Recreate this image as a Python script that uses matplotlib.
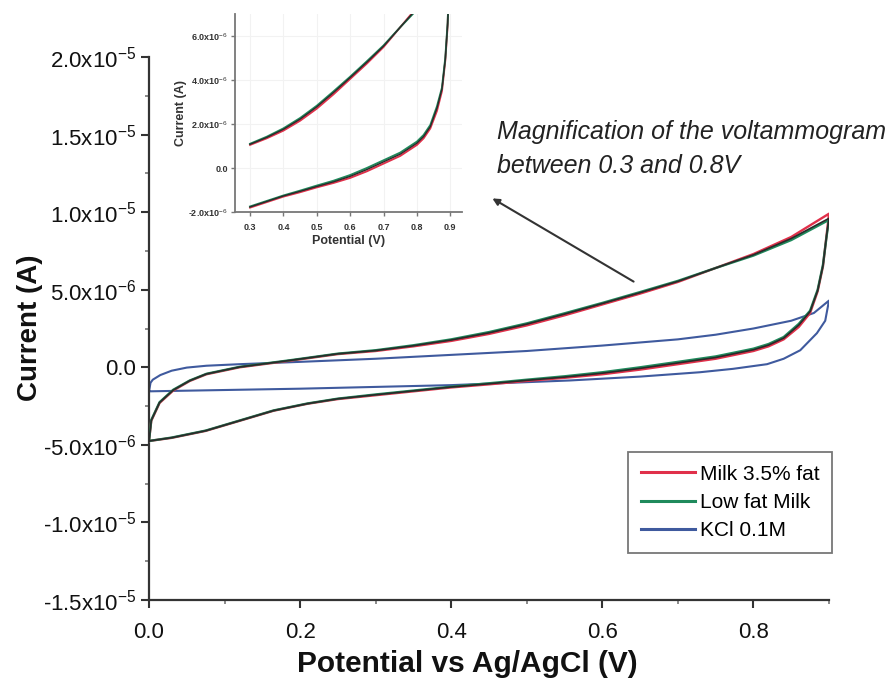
import numpy as np
import matplotlib
matplotlib.use("Agg")
import matplotlib.pyplot as plt
from matplotlib.patches import FancyArrowPatch
from matplotlib.ticker import FixedLocator, MultipleLocator

plt.rcParams["font.family"] = ["Liberation Sans", "DejaVu Sans"]
plt.rcParams["mathtext.fontset"] = "custom"
plt.rcParams["mathtext.rm"] = "Liberation Sans"
plt.rcParams["mathtext.it"] = "Liberation Sans:italic"
plt.rcParams["mathtext.bf"] = "Liberation Sans:bold"

# Cyclic voltammograms (potential in V vs Ag/AgCl, current in uA)
# Milk 3.5% fat: anodic sweep 0 -> 0.9 V, then cathodic sweep 0.9 -> 0 V
milk_fwd_v = [0.0, 0.003, 0.014, 0.032, 0.054, 0.076, 0.12, 0.186, 0.25, 0.3, 0.35, 0.4,
              0.45, 0.5, 0.55, 0.6, 0.65, 0.7, 0.75, 0.8, 0.85, 0.9]
milk_fwd_i = [-4.75, -3.45, -2.3, -1.5, -0.88, -0.45, 0.0, 0.42, 0.85, 1.05, 1.35, 1.7,
              2.15, 2.7, 3.35, 4.05, 4.75, 5.5, 6.4, 7.3, 8.4, 9.9]
milk_rev_v = [0.9, 0.897, 0.892, 0.885, 0.875, 0.86, 0.84, 0.82, 0.8, 0.75, 0.7, 0.65,
              0.6, 0.55, 0.5, 0.45, 0.4, 0.35, 0.3, 0.25, 0.21, 0.165, 0.12, 0.075, 0.03, 0.0]
milk_rev_i = [9.9, 8.6, 6.5, 4.9, 3.5, 2.6, 1.8, 1.35, 1.05, 0.55, 0.2, -0.15,
              -0.45, -0.68, -0.88, -1.1, -1.3, -1.55, -1.8, -2.05, -2.35, -2.8, -3.45, -4.1, -4.55, -4.75]

# Low fat milk
lowfat_fwd_v = milk_fwd_v
lowfat_fwd_i = [-4.75, -3.4, -2.25, -1.45, -0.85, -0.42, 0.03, 0.45, 0.88, 1.1, 1.42, 1.8,
                2.27, 2.83, 3.48, 4.15, 4.85, 5.57, 6.4, 7.2, 8.2, 9.5]
lowfat_rev_v = milk_rev_v
lowfat_rev_i = [9.5, 8.5, 6.6, 5.0, 3.65, 2.8, 1.95, 1.5, 1.2, 0.7, 0.35, 0.0,
                -0.32, -0.58, -0.8, -1.03, -1.25, -1.5, -1.75, -2.02, -2.33, -2.78, -3.43, -4.08, -4.53, -4.75]

# Trace drawn over both milk sweeps
overlay_fwd_i = [-4.75, -3.42, -2.27, -1.47, -0.86, -0.43, 0.02, 0.44, 0.87, 1.08, 1.39, 1.76,
                 2.22, 2.78, 3.43, 4.11, 4.81, 5.54, 6.4, 7.25, 8.3, 9.6]
overlay_rev_i = [9.6, 8.55, 6.55, 4.95, 3.6, 2.72, 1.88, 1.43, 1.13, 0.63, 0.28, -0.07,
                 -0.38, -0.63, -0.84, -1.06, -1.27, -1.52, -1.77, -2.03, -2.34, -2.79, -3.44, -4.09, -4.54, -4.75]

# KCl 0.1 M supporting electrolyte
kcl_fwd_v = [0.0, 0.002, 0.005, 0.015, 0.03, 0.05, 0.076, 0.12, 0.2, 0.3, 0.4, 0.5,
             0.6, 0.7, 0.75, 0.8, 0.85, 0.88, 0.9]
kcl_fwd_i = [-1.55, -1.0, -0.8, -0.5, -0.22, -0.02, 0.1, 0.2, 0.35, 0.55, 0.8, 1.05,
             1.4, 1.8, 2.1, 2.5, 3.0, 3.5, 4.3]
kcl_rev_v = [0.9, 0.895, 0.884, 0.862, 0.84, 0.818, 0.773, 0.729, 0.65, 0.557, 0.4, 0.2, 0.0]
kcl_rev_i = [4.3, 3.0, 2.2, 1.1, 0.55, 0.2, -0.1, -0.32, -0.6, -0.85, -1.15, -1.38, -1.55]

labels = ["Milk 3.5% fat", "Low fat Milk", "KCl 0.1M"]
colors = ["#e0304a", "#1f8a5c", "#3f5a9e"]

ytick_vals = [-1.5e-5, -1.0e-5, -5.0e-6, 0.0, 5.0e-6, 1.0e-5, 1.5e-5, 2.0e-5]
ytick_text = [r"-1.5x10$^{-5}$", r"-1.0x10$^{-5}$", r"-5.0x10$^{-6}$", "0.0",
              r"5.0x10$^{-6}$", r"1.0x10$^{-5}$", r"1.5x10$^{-5}$", r"2.0x10$^{-5}$"]
xtick_vals = [0.0, 0.2, 0.4, 0.6, 0.8]
xtick_text = ["0.0", "0.2", "0.4", "0.6", "0.8"]

inset_yvals = [-2e-6, 0.0, 2e-6, 4e-6, 6e-6]
inset_ytext = [r"-2.0x10$^{-6}$", "0.0", r"2.0x10$^{-6}$", r"4.0x10$^{-6}$", r"6.0x10$^{-6}$"]
inset_xvals = [0.3, 0.4, 0.5, 0.6, 0.7, 0.8, 0.9]
inset_vmin = 0.3


def loop(fv, fi, rv, ri):
    v = np.concatenate([fv, rv])
    i = np.concatenate([fi, ri]) * 1e-6
    return v, i


def window(curve, vmin):
    v, i = curve
    keep = v >= vmin
    return v[keep], i[keep]


milk = loop(milk_fwd_v, milk_fwd_i, milk_rev_v, milk_rev_i)
lowfat = loop(lowfat_fwd_v, lowfat_fwd_i, lowfat_rev_v, lowfat_rev_i)
overlay = loop(milk_fwd_v, overlay_fwd_i, milk_rev_v, overlay_rev_i)
kcl = loop(kcl_fwd_v, kcl_fwd_i, kcl_rev_v, kcl_rev_i)

W, H = 893, 688
fig = plt.figure(figsize=(W / 100, H / 100), dpi=100)
ax = fig.add_axes([149 / W, 1 - 600 / H, (829 - 149) / W, (600 - 57) / H])

axis_col = "#333333"

ax.plot(*milk, color=colors[0], lw=1.7, label=labels[0], zorder=3)
ax.plot(*lowfat, color=colors[1], lw=1.7, label=labels[1], zorder=3)
ax.plot(*overlay, color="#2a2a2a", lw=1.2, label="_nolegend_", zorder=4)
ax.plot(*kcl, color=colors[2], lw=1.5, label=labels[2], zorder=2)

ax.set_xlim(0.0, 0.9)
ax.set_ylim(-1.5e-5, 2.0e-5)
for s in ["top", "right"]:
    ax.spines[s].set_visible(False)
for s in ["left", "bottom"]:
    ax.spines[s].set_color(axis_col)
    ax.spines[s].set_linewidth(1.6)
ax.yaxis.set_major_locator(FixedLocator(ytick_vals))
ax.set_yticklabels(ytick_text)
ax.yaxis.set_minor_locator(MultipleLocator(2.5e-6))
ax.xaxis.set_major_locator(FixedLocator(xtick_vals))
ax.set_xticklabels(xtick_text)
ax.xaxis.set_minor_locator(MultipleLocator(0.1))
ax.tick_params(axis="both", which="major", direction="out", length=6, width=1.5,
               color=axis_col, labelsize=16, labelcolor="#111111")
ax.tick_params(axis="x", which="major", pad=10)
ax.tick_params(axis="y", which="major", pad=3)
ax.tick_params(axis="both", which="minor", direction="out", length=3, width=1.2, color="#777777")

fig.text(30 / W, 1 - 328 / H, "Current (A)", rotation=90, ha="center", va="center",
         fontsize=20, fontweight="bold", color="#111111")
fig.text(467 / W, 1 - 664 / H, "Potential vs Ag/AgCl (V)", ha="center", va="center",
         fontsize=21.5, fontweight="bold", color="#111111")

leg = ax.legend(loc="upper left", bbox_to_anchor=(628 / W, 1 - 452 / H),
                bbox_transform=fig.transFigure, frameon=True, fancybox=False,
                fontsize=15, handlelength=2.6, handletextpad=0.25, labelspacing=0.45,
                borderpad=0.6, borderaxespad=0)
leg.get_frame().set_edgecolor("#555555")
leg.get_frame().set_linewidth(1.3)
for h in leg.get_lines():
    h.set_linewidth(2.2)

fig.text(497 / W, 1 - 132 / H, "Magnification of the voltammogram", ha="left", va="center",
         fontsize=18, style="italic", color="#222222")
fig.text(497 / W, 1 - 166 / H, "between 0.3 and 0.8V", ha="left", va="center",
         fontsize=18, style="italic", color="#222222")
fig.add_artist(FancyArrowPatch(
    posA=(636 / W, 1 - 283 / H), posB=(490 / W, 1 - 197 / H), transform=fig.transFigure,
    arrowstyle="-|>", mutation_scale=10, color="#333333", lw=1.5))

# Inset: close-up of the milk voltammograms
ins = fig.add_axes([235 / W, 1 - 212 / H, (462 - 235) / W, (212 - 14) / H])
ins.plot(*window(milk, inset_vmin), color=colors[0], lw=1.4, zorder=3)
ins.plot(*window(lowfat, inset_vmin), color=colors[1], lw=1.4, zorder=3)
ins.plot(*window(overlay, inset_vmin), color="#2a2a2a", lw=1.0, zorder=4)
ins.set_xlim(0.255, 0.935)
ins.set_ylim(-2.0e-6, 7.0e-6)
for s in ["top", "right"]:
    ins.spines[s].set_visible(False)
for s in ["left", "bottom"]:
    ins.spines[s].set_color("#777777")
    ins.spines[s].set_linewidth(1.3)
ins.yaxis.set_major_locator(FixedLocator(inset_yvals))
ins.set_yticklabels(inset_ytext)
ins.xaxis.set_major_locator(FixedLocator(inset_xvals))
ins.set_xticklabels([f"{v:.1f}" for v in inset_xvals])
ins.tick_params(axis="both", which="major", direction="out", length=3, width=1,
                color="#777777", labelsize=6.5)
ins.tick_params(axis="x", which="major", pad=5)
ins.tick_params(axis="y", which="major", pad=2)
for t in ins.get_xticklabels() + ins.get_yticklabels():
    t.set_fontweight("bold")
    t.set_color("#333333")
ins.set_ylabel("Current (A)", fontsize=9, fontweight="bold", color="#333333", labelpad=1)
ins.set_xlabel("Potential (V)", fontsize=9, fontweight="bold", color="#333333", labelpad=2)
ins.grid(True, color="#f2f2f2", lw=0.8)

fig.savefig("out.png", dpi=100)
